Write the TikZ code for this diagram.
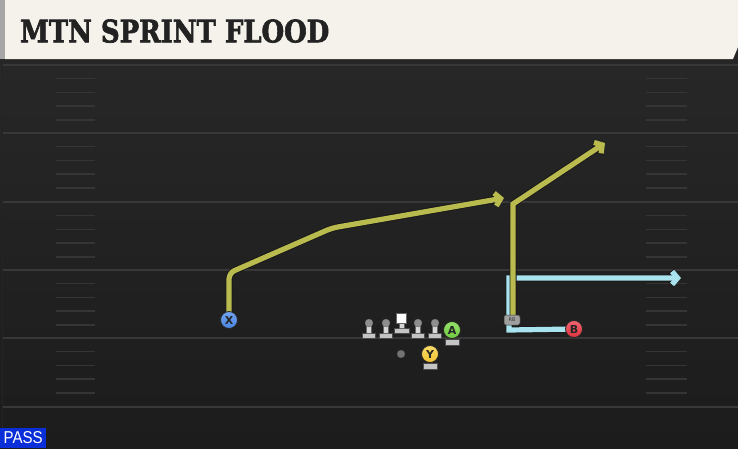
\documentclass[tikz,border=0pt]{standalone}
\usepackage{fontspec}
\setmainfont{DejaVu Sans}
\newfontfamily\titlefont[BoldFeatures={FakeBold=2.2}]{DejaVu Serif}
\newfontfamily\passfont{Liberation Sans}
\usetikzlibrary{arrows.meta}
\definecolor{fieldtop}{HTML}{272727}
\definecolor{fieldbot}{HTML}{1C1C1C}
\definecolor{yardline}{HTML}{383838}
\definecolor{hashc}{HTML}{353535}
\definecolor{cream}{HTML}{F4F2EB}
\definecolor{titletxt}{HTML}{222222}
\definecolor{routey}{HTML}{B9BB4E}
\definecolor{routec}{HTML}{A9E3EE}
\definecolor{xblue}{HTML}{4A86E0}
\definecolor{xbluel}{HTML}{6FA2F0}
\definecolor{agreen}{HTML}{6DCC3D}
\definecolor{agreenl}{HTML}{95E06A}
\definecolor{yyel}{HTML}{F2C230}
\definecolor{yyell}{HTML}{F8DA6A}
\definecolor{bred}{HTML}{E0323F}
\definecolor{bredl}{HTML}{F06670}
\definecolor{passblue}{HTML}{0A2FD8}
\definecolor{lmlight}{HTML}{D6D6D6}
\definecolor{lmbase}{HTML}{C4C4C4}
\definecolor{lmhead}{HTML}{8E8E8E}
\tikzset{
  player/.style={circle, draw=black!85, line width=0.8pt, minimum size=17pt, inner sep=0pt,
    font=\bfseries\fontsize{11}{11}\selectfont, text=black!85},
  routeline/.style={line width=5.2pt, draw=#1, line join=miter, line cap=butt},
  routeedge/.style={line width=7pt, draw=black!90, line join=miter, line cap=butt},
  tipy/.style={-{Straight Barb[length=5.5pt,width=13pt]}},
  yardln/.style={draw=yardline, line width=2pt},
  hashln/.style={draw=hashc, line width=1.5pt},
  basebar/.style={fill=lmbase, draw=black!70, line width=0.4pt},
  pics/lineman/.style={code={
    \fill[basebar] (-6.5,-4) rectangle (6.5,1);
    \fill[lmlight, draw=black!60, line width=0.3pt] (-2.6,-13) rectangle (2.6,-4);
    \fill[lmhead, draw=black!60, line width=0.3pt] (0,-14) circle (4);
  }}
}
\begin{document}
\begin{tikzpicture}[x=1pt,y=-1pt]
\useasboundingbox (0,0) rectangle (738,448);
% background
\fill[fieldtop] (0,0) rectangle (738,448);
\shade[top color=fieldtop, bottom color=fieldbot] (0,63) rectangle (738,448);
% title bar
\fill[black!85] (0,0) rectangle (738,63);
\fill[gray!70] (0,0) rectangle (5,59);
\fill[cream] (5,0) -- (738,0) -- (738,47) -- (733,59) -- (5,59) -- cycle;
\node[anchor=south west, inner sep=0pt, text=titletxt] (title) at (20,43)
  {\resizebox{309pt}{23pt}{\titlefont\bfseries MTN SPRINT FLOOD}};
% field yard lines
\draw[draw=black!35!yardline, line width=0.6pt] (2,63) -- (2,448);
\foreach \yy in {65,133,202,270,338,407} {
  \draw[yardln] (3,\yy) -- (738,\yy);
}
% hash marks
\foreach \yb in {65,133,202,270,338} {
  \foreach \j in {1,2,3,4} {
    \draw[hashln] (56,\yb+13.7*\j) -- (95,\yb+13.7*\j);
    \draw[hashln] (646,\yb+13.7*\j) -- (687,\yb+13.7*\j);
  }
}
% player positions
\coordinate (xpos) at (229,320);
\coordinate (rbpos) at (512,320);
\coordinate (bpos) at (574,329);
% route coordinates
\coordinate (x1) at (229,273);
\coordinate (x2) at (332,228);
\coordinate (x3) at (504,198);
\coordinate (r1) at (513,204);
\coordinate (r2) at (605,143);
\coordinate (c0) at (509,330);
\coordinate (c1) at (509,278);
\coordinate (c2) at (681,278);
% cyan route
\draw[routeedge, tipy] (bpos) -- (c0) -- (c1) -- (c2);
\draw[routeline=routec, tipy] (bpos) -- (c0) -- (c1) -- (c2);
% yellow routes
\draw[routeedge, tipy, rounded corners=6pt] (xpos) -- (x1) -- (x2) -- (x3);
\draw[routeline=routey, tipy, rounded corners=6pt] (xpos) -- (x1) -- (x2) -- (x3);
\draw[routeedge, tipy] (513,318) -- (r1) -- (r2);
\draw[routeline=routey, tipy] (513,318) -- (r1) -- (r2);
% linemen
\pic at (369,337) {lineman};
\pic at (386,337) {lineman};
\pic at (418,337) {lineman};
\pic at (435,337) {lineman};
% center
\fill[basebar] (394,328) rectangle (409,333);
\fill[lmlight, draw=black!60, line width=0.3pt] (398.9,322) rectangle (404.1,328);
\node[fill=white, draw=black!60, line width=0.3pt, minimum size=10pt, inner sep=0pt] (center) at (401.5,318) {};
% QB dot
\node[circle, fill=black!55, draw=black!70, line width=0.3pt, minimum size=8pt, inner sep=0pt] (qb) at (401,354) {};
% A and Y bases
\fill[basebar] (445,339) rectangle (459,345);
\fill[basebar] (423,363) rectangle (437,369);
% skill players
\node[player, top color=xbluel, bottom color=xblue] (X) at (xpos) {X};
\node[player, top color=agreenl, bottom color=agreen] (A) at (452,330) {A};
\node[player, top color=yyell, bottom color=yyel] (Y) at (430,354) {Y};
\node[player, top color=bredl, bottom color=bred] (B) at (bpos) {B};
\node[rounded corners=2pt, fill=gray!75, draw=black!80, line width=0.5pt, minimum width=16pt, minimum height=10pt, inner sep=0pt,
  font=\fontsize{5}{5}\selectfont, text=black!80] (RB) at (rbpos) {RB};
% PASS label
\node[fill=passblue, anchor=south west, inner sep=0pt, minimum width=46pt, minimum height=20pt, text=white] (pass) at (0,448)
  {\resizebox{39pt}{12pt}{\passfont PASS}};
\end{tikzpicture}
\end{document}
